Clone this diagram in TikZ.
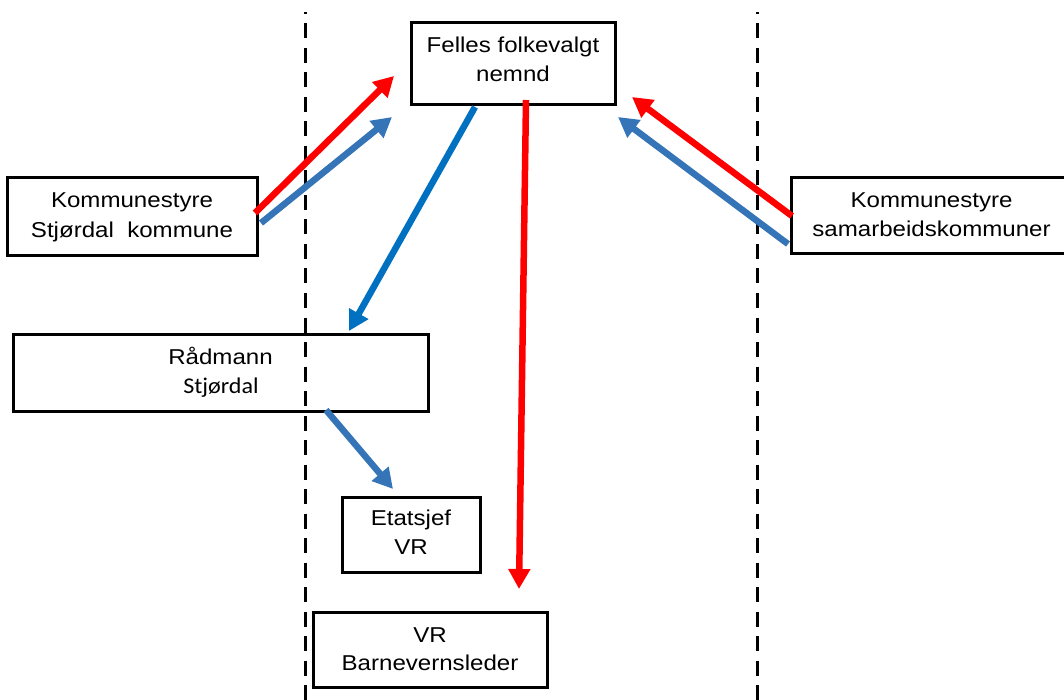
\documentclass[tikz,border=0pt]{standalone}
\usepackage{fontspec}
\setmainfont{Liberation Sans}[FakeStretch=1.12]
\newfontfamily\altfont{Carlito}[FakeStretch=1.07]
\usetikzlibrary{arrows.meta}

\definecolor{arrowred}{HTML}{FF0000}
\definecolor{arrowblue}{HTML}{3575B7}
\definecolor{darkblue}{HTML}{0070C0}

\tikzset{
  box/.style={draw=black, line width=3pt, inner sep=0pt, outer sep=0pt},
  lbl/.style={anchor=base, inner sep=0pt, font=\fontsize{21.5}{25}\selectfont},
  sublbl/.style={anchor=base, inner sep=0pt, font=\altfont\fontsize{22.5}{26}\selectfont},
  flow/.style={line width=6.5pt, -{Triangle[length=20pt,width=21pt]}},
  redflow/.style={flow, draw=arrowred, fill=arrowred},
  blueflow/.style={flow, draw=arrowblue, fill=arrowblue},
  darkflow/.style={flow, draw=darkblue, fill=darkblue},
  divider/.style={line width=3pt, dash pattern=on 15pt off 9.5pt, dash phase=13pt}
}

\begin{document}
\begin{tikzpicture}[x=1pt, y=-1pt]
  \useasboundingbox (0,0) rectangle (1064,700);
  \clip (0,0) rectangle (1064,700);

  % dividing lines
  \draw[divider] (305,12) -- (305,702);
  \draw[divider] (757,12) -- (757,702);

  % boxes
  \node[box, minimum width=204pt, minimum height=82pt] (ff) at (513,64) {};
  \node[box, minimum width=250pt, minimum height=78pt] (ks) at (132,217) {};
  \node[box, minimum width=415pt, minimum height=77pt] (rm) at (220.5,372.5) {};
  \node[box, minimum width=138pt, minimum height=75pt] (et) at (411,534.5) {};
  \node[box, minimum width=234pt, minimum height=75pt] (vr) at (430,649.5) {};
  \node[box, minimum width=281pt, minimum height=76pt] (sk) at (931.5,216) {};

  % box texts
  \node[lbl] (ff-a) at (513,52.7) {Felles folkevalgt};
  \node[lbl] (ff-b) at (513,81.7) {nemnd};
  \node[lbl] (ks-a) at (132,208) {Kommunestyre};
  \node[lbl] (ks-b) at (132,238) {Stjørdal\ \ kommune};
  \node[lbl] (rm-a) at (220.5,364) {Rådmann};
  \node[sublbl] (rm-b) at (221,393) {Stjørdal};
  \node[lbl] (et-a) at (411,525) {Etatsjef};
  \node[lbl] (et-b) at (411,554) {VR};
  \node[lbl] (vr-a) at (430,642.7) {VR};
  \node[lbl] (vr-b) at (430,670) {Barnevernsleder};
  \node[lbl] (sk-a) at (931.5,208) {Kommunestyre};
  \node[lbl] (sk-b) at (931.5,237) {samarbeidskommuner};

  % connectors
  \draw[redflow]  ([xshift=-2pt,yshift=4pt]ks.east) -- ([xshift=-17pt,yshift=29pt]ff.south west);
  \draw[blueflow] ([xshift=4pt,yshift=-6pt]ks.east) -- ([xshift=-19pt,yshift=-12pt]ff.south west);
  \draw[darkflow] ([xshift=-38pt,yshift=-2pt]ff.south) -- ([xshift=-79pt,yshift=3pt]rm.north east);
  \draw[redflow]  ([xshift=13pt,yshift=5pt]ff.south) -- ([xshift=89pt,yshift=23pt]vr.north);
  \draw[blueflow] ([xshift=105.5pt,yshift=1pt]rm.south) -- ([xshift=-18pt,yshift=8pt]et.north);
  \draw[redflow]  ([xshift=1pt]sk.west) -- ([xshift=17pt,yshift=8pt]ff.south east);
  \draw[blueflow] ([xshift=-3pt,yshift=-28pt]sk.west) -- ([xshift=3pt,yshift=-12pt]ff.south east);
\end{tikzpicture}
\end{document}
